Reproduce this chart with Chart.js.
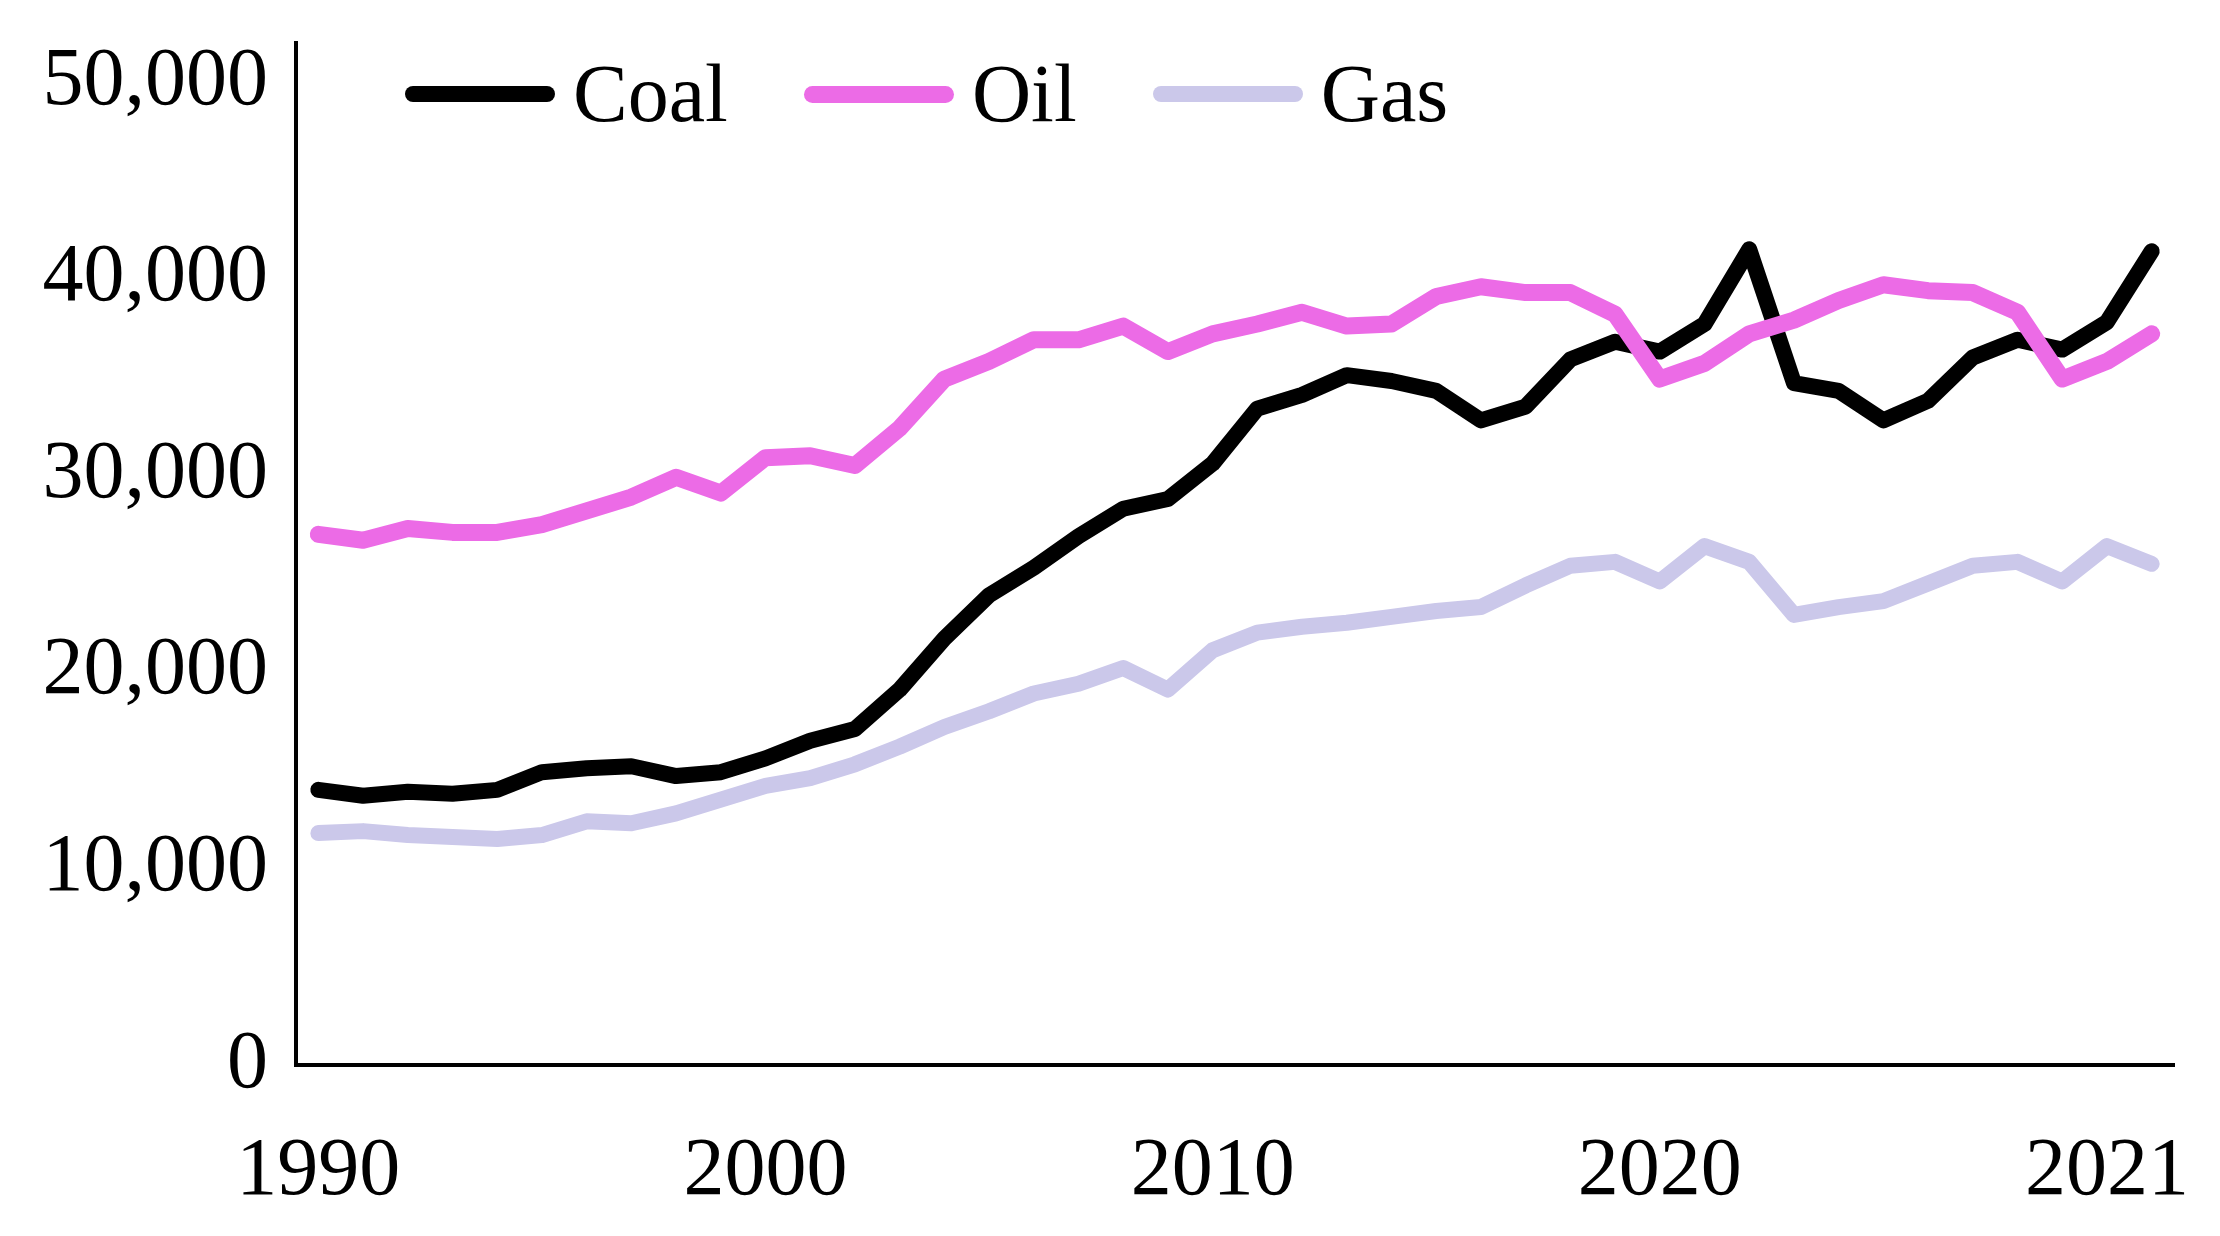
<!DOCTYPE html>
<html>
<head>
<meta charset="utf-8">
<script src="https://cdn.jsdelivr.net/npm/chart.js@4.4.1/dist/chart.umd.min.js"></script>
<style>
  html, body { margin: 0; padding: 0; background: #fff; }
  #wrap { width: 2220px; height: 1236px; position: relative; }
  #legend {
    position: absolute; left: 405px; top: 53px;
    display: flex; align-items: center; gap: 76px;
    font-family: "Liberation Serif", "Times New Roman", serif;
    font-size: 82px; line-height: 1; color: #000;
  }
  #legend .item { display: flex; align-items: center; }
  #legend .swatch { width: 150px; margin-right: 18px; }
</style>
</head>
<body>
<div id="wrap">
  <canvas id="chart"></canvas>
  <div id="legend"></div>
</div>
<script>
// Tick labels shown every 10th point on the x axis
const tickLabels = ['1990', '2000', '2010', '2020', '2021'];
const yTicks = [0, 10000, 20000, 30000, 40000, 50000];

// Series values
const coal = [14000, 13700, 13900, 13800, 14000, 14900, 15100, 15200, 14700, 14900,
              15600, 16500, 17100, 19100, 21700, 23900, 25300, 26900, 28300, 28800,
              30600, 33400, 34100, 35100, 34800, 34300, 32800, 33500, 35900, 36800,
              36300, 37700, 41500, 34700, 34300, 32800, 33800, 36000, 36900, 36400,
              37800, 41400];
const oil = [27000, 26700, 27300, 27100, 27100, 27500, 28200, 28900, 29900, 29100,
             30900, 31000, 30500, 32400, 34900, 35800, 36900, 36900, 37600, 36300,
             37200, 37700, 38300, 37600, 37700, 39100, 39600, 39300, 39300, 38200,
             34900, 35700, 37200, 37900, 38900, 39700, 39400, 39300, 38300, 34900,
             35800, 37200];
const gas = [11800, 11900, 11700, 11600, 11500, 11700, 12400, 12300, 12800, 13500,
             14200, 14600, 15300, 16200, 17200, 18000, 18900, 19400, 20200, 19100,
             21100, 22000, 22300, 22500, 22800, 23100, 23300, 24400, 25400, 25600,
             24600, 26400, 25600, 22900, 23300, 23600, 24500, 25400, 25600, 24600,
             26400, 25500];

const categories = coal.map((_, i) => i);

const FONT = '"Liberation Serif", "Times New Roman", serif';
const FONT_SIZE = 82;

Chart.defaults.font.family = FONT;
Chart.defaults.color = '#000';

function series(label, data, color, width, order) {
    return {
        label,
        data,
        borderColor: color,
        backgroundColor: color,
        borderWidth: width,
        borderJoinStyle: 'round',
        borderCapStyle: 'round',
        pointRadius: 0,
        tension: 0,
        fill: false,
        order // oil is painted over coal in the reference
    };
}

// HTML legend built from the chart's own legend items
const htmlLegend = {
    id: 'htmlLegend',
    afterUpdate(chart) {
        const box = document.getElementById('legend');
        box.innerHTML = '';
        const items = chart.options.plugins.legend.labels.generateLabels(chart)
            .sort((a, b) => a.datasetIndex - b.datasetIndex);
        items.forEach(item => {
            const el = document.createElement('div');
            el.className = 'item';
            const sw = document.createElement('span');
            sw.className = 'swatch';
            sw.style.height = item.lineWidth + 'px';
            sw.style.borderRadius = (item.lineWidth / 2) + 'px';
            sw.style.background = item.strokeStyle;
            const txt = document.createElement('span');
            txt.textContent = item.text;
            el.appendChild(sw);
            el.appendChild(txt);
            box.appendChild(el);
        });
    }
};

new Chart(document.getElementById('chart'), {
    type: 'line',
    data: {
        labels: categories,
        datasets: [
            series('Coal', coal, '#000000', 16, 1),
            series('Oil', oil, '#ec6be6', 17, 0),
            series('Gas', gas, '#cbc8ea', 16, 2)
        ]
    },
    options: {
        responsive: true,
        maintainAspectRatio: false,
        devicePixelRatio: 1,
        animation: false,
        layout: { padding: { top: 43, right: 46, left: 0, bottom: 0 } },
        plugins: {
            tooltip: { enabled: false },
            legend: { display: false }
        },
        scales: {
            x: {
                type: 'category',
                offset: true,
                grid: { display: false, drawTicks: false },
                border: { display: true, color: '#000', width: 4 },
                ticks: {
                    autoSkip: false,
                    maxRotation: 0,
                    minRotation: 0,
                    padding: 58,
                    color: '#000',
                    font: { family: FONT, size: FONT_SIZE },
                    callback: (val, idx) => (idx % 10 === 0 ? tickLabels[idx / 10] : '')
                },
                afterFit: (scale) => { scale.height = 171; }
            },
            y: {
                min: 0,
                max: 52000,
                grid: { display: false, drawTicks: false },
                border: { display: true, color: '#000', width: 4 },
                ticks: {
                    padding: 28,
                    color: '#000',
                    // the unlabeled top tick only carries the axis up, keep it tiny
                    font: (ctx) => ({
                        family: FONT,
                        size: ctx.tick && ctx.tick.value > 50000 ? 1 : FONT_SIZE
                    }),
                    callback: (v) => (yTicks.includes(v) ? v.toLocaleString('en-US') : '')
                },
                afterBuildTicks: (scale) => {
                    scale.ticks = yTicks.map(v => ({ value: v })).concat({ value: scale.max });
                },
                afterFit: (scale) => { scale.width = 296; }
            }
        }
    },
    plugins: [htmlLegend]
});
</script>
</body>
</html>
